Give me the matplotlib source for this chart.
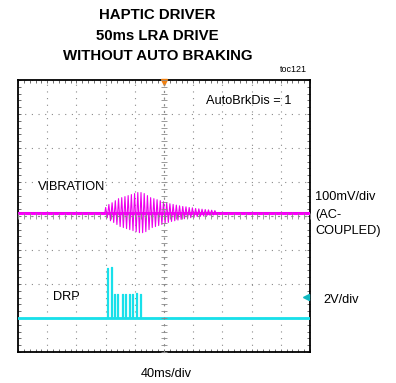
import numpy as np
import matplotlib
matplotlib.use("Agg")
import matplotlib.pyplot as plt
from matplotlib.ticker import MultipleLocator

plt.rcParams['font.family'] = ['Liberation Sans', 'DejaVu Sans']

W, H = 396, 383

# scope settings
ms_per_div = 40.0
vib_mv_per_div = 100.0
drp_v_per_div = 2.0
vib_offset_div = 0.1      # ch1 ground, divisions above centre
drp_offset_div = -3.0     # ch2 ground

# vibration: peak amplitude of each cycle (mV)
vib_start_ms = 119.0
vib_period_ms = 4.4
vib_amp_mv = [15, 24, 29, 35, 41, 44, 47, 50, 53, 56, 59, 59, 56, 50, 44, 41,
              38, 35, 32, 29, 26, 24, 22, 20, 18, 17, 15, 14, 12, 11, 10, 9,
              8, 7, 6]

# DRP drive pulses: start time (ms) and height (V)
drp_start_ms = [121.5, 127.0, 131.5, 136.0, 142.1, 146.6, 152.1, 156.6, 161.6, 167.1]
drp_height_v = [2.95, 3.0, 1.4, 1.4, 1.4, 1.4, 1.4, 1.4, 1.45, 1.4]
drp_width_ms = 1.5


def px(x, y):
    return x / W, 1 - y / H


# build traces
vib_t = [0.0, vib_start_ms]
vib_v = [0.0, 0.0]
for i, a in enumerate(vib_amp_mv):
    t0 = vib_start_ms + i * vib_period_ms
    vib_t += [t0 + 0.25 * vib_period_ms, t0 + 0.75 * vib_period_ms]
    vib_v += [a, -a]
vib_t += [vib_start_ms + len(vib_amp_mv) * vib_period_ms, 400.0]
vib_v += [0.0, 0.0]
vib_t = np.array(vib_t)
vib_y = np.array(vib_v) / vib_mv_per_div + vib_offset_div

drp_t = [0.0]
drp_v = [0.0]
for t0, h in zip(drp_start_ms, drp_height_v):
    drp_t += [t0, t0, t0 + drp_width_ms, t0 + drp_width_ms]
    drp_v += [0.0, h, h, 0.0]
drp_t += [400.0]
drp_v += [0.0]
drp_t = np.array(drp_t)
drp_y = np.array(drp_v) / drp_v_per_div + drp_offset_div

fig = plt.figure(figsize=(W / 100, H / 100), dpi=100)
pos = [18 / W, 1 - 352 / H, 292 / W, 272 / H]
ax = fig.add_axes(pos)
ax.set_xlim(0, 10 * ms_per_div)
ax.set_ylim(-4, 4)
ax.xaxis.set_major_locator(MultipleLocator(ms_per_div))
ax.xaxis.set_minor_locator(MultipleLocator(ms_per_div / 5))
ax.yaxis.set_major_locator(MultipleLocator(1))
ax.yaxis.set_minor_locator(MultipleLocator(0.2))
ax.grid(which='major', color='#8a8a8a', linestyle=(0, (1, 5)), linewidth=0.8)
ax.tick_params(which='both', direction='in', length=2.5, width=0.6, color='#555555',
               top=True, right=True, labelbottom=False, labelleft=False)
for s in ax.spines.values():
    s.set_linewidth(1.3)
    s.set_color('black')

# traces
ax.axhline(vib_offset_div, color='#ff00ff', lw=2.2, zorder=3)
ax.plot(vib_t, vib_y, color='#ee00ee', lw=0.8, zorder=4)
ax.axhline(drp_offset_div, color='#18e0ea', lw=2.0, zorder=3)
ax.plot(drp_t, drp_y, color='#18e0ea', lw=0.9, zorder=4)

# markers
ax.plot(200, 3.93, marker='v', ms=5, color='#f08010', clip_on=False, zorder=6)
ax.plot(394, -2.38, marker='<', ms=4, color='#10b8c0', clip_on=False, zorder=6)

# centre cross with fine ticks
ax2 = fig.add_axes(pos)
ax2.patch.set_visible(False)
ax2.set_xlim(ax.get_xlim())
ax2.set_ylim(ax.get_ylim())
ax2.xaxis.set_major_locator(MultipleLocator(ms_per_div))
ax2.xaxis.set_minor_locator(MultipleLocator(ms_per_div / 5))
ax2.yaxis.set_major_locator(MultipleLocator(1))
ax2.yaxis.set_minor_locator(MultipleLocator(0.2))
ax2.spines['top'].set_visible(False)
ax2.spines['right'].set_visible(False)
ax2.spines['left'].set_position(('data', 200))
ax2.spines['bottom'].set_position(('data', 0))
for k in ['left', 'bottom']:
    ax2.spines[k].set_color('#8a8a8a')
    ax2.spines[k].set_linestyle((0, (1, 5)))
    ax2.spines[k].set_linewidth(0.8)
ax2.tick_params(which='both', direction='inout', length=4, width=0.6, color='#8a8a8a',
                labelbottom=False, labelleft=False)

# text
fig.text(*px(157, 15), 'HAPTIC DRIVER', ha='center', va='center', fontsize=10.8, fontweight='bold')
fig.text(*px(157, 35.5), '50ms LRA DRIVE', ha='center', va='center', fontsize=10.8, fontweight='bold')
fig.text(*px(158, 55.5), 'WITHOUT AUTO BRAKING', ha='center', va='center', fontsize=10.8, fontweight='bold')
fig.text(*px(293, 69), 'toc121', ha='center', va='center', fontsize=6.5)
fig.text(*px(249, 101), 'AutoBrkDis = 1', ha='center', va='center', fontsize=9.2)
fig.text(*px(38, 187), 'VIBRATION', ha='left', va='center', fontsize=9.2)
fig.text(*px(53, 297), 'DRP', ha='left', va='center', fontsize=9.2)
fig.text(*px(315, 197), '100mV/div', ha='left', va='center', fontsize=9.2)
fig.text(*px(315, 215), '(AC-', ha='left', va='center', fontsize=9.2)
fig.text(*px(315, 231), 'COUPLED)', ha='left', va='center', fontsize=9.2)
fig.text(*px(323, 300), '2V/div', ha='left', va='center', fontsize=9.2)
fig.text(*px(166, 374), '40ms/div', ha='center', va='center', fontsize=9.2)

fig.savefig('out.png', dpi=100)
